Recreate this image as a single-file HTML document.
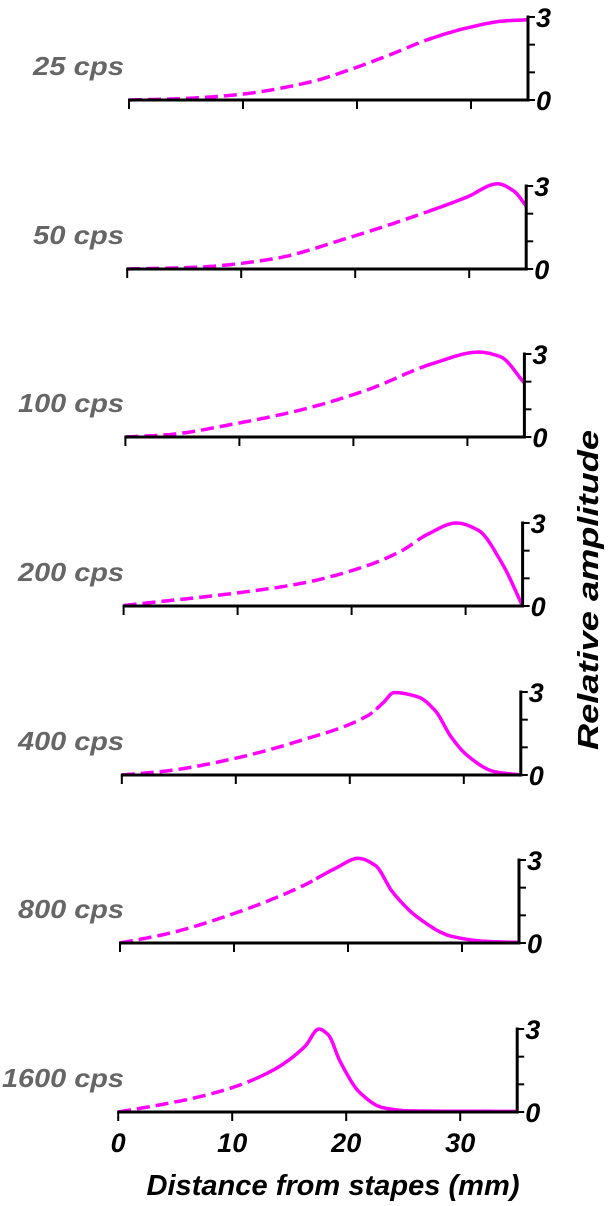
<!DOCTYPE html>
<html><head><meta charset="utf-8"><style>
html,body{margin:0;padding:0;background:#fff;}
svg{display:block;font-family:"Liberation Sans",Arial,sans-serif;font-weight:bold;font-style:italic;}
</style></head><body>
<svg id="chart" width="610" height="1206" viewBox="0 0 610 1206" xmlns="http://www.w3.org/2000/svg"></svg>
<script>
const labels = ["25 cps","50 cps","100 cps","200 cps","400 cps","800 cps","1600 cps"];
const xs1 = [0,4,9.2,16,19.4,22.8,26.2,29.6,33,35];
const ys1 = [0,0.04,0.18,0.66,1.1,1.62,2.18,2.6,2.86,2.9];
const xs2 = [0,5.9,12.7,19.5,26.4,29.8,32.5,33.9,35];
const ys2 = [0,0.06,0.36,1.14,2.08,2.6,3.08,2.82,2.28];
const xs3 = [0,3.65,9.5,15.4,21.2,27,31,32.9,35];
const ys3 = [0,0.08,0.47,0.98,1.7,2.66,3.07,2.9,1.95];
const xs4 = [0,3.9,9.7,15.6,21.5,24.4,26.7,29.2,31.1,33.2,35];
const ys4 = [0.02,0.19,0.46,0.82,1.48,2.0,2.6,3.0,2.74,1.54,0];
const xs5 = [0,4,9.9,15.7,21.6,22.9,23.9,26,27.5,28.9,30.3,32.7,35];
const ys5 = [0,0.15,0.6,1.25,2.15,2.6,2.98,2.82,2.32,1.37,0.71,0.12,0];
const xs6 = [0,4.2,10.1,16,18.9,20.9,22.4,23.9,26.2,29.1,32.1,35];
const ys6 = [0,0.34,1.08,2.06,2.7,3.06,2.8,1.85,0.9,0.24,0.06,0.02];
const xs7 = [0,3.4,6.8,10.2,13.7,16.4,17.6,18.4,19.5,21.2,23.2,25.6,35];
const ys7 = [0,0.24,0.52,0.91,1.54,2.38,3.0,2.8,1.8,0.7,0.16,0.04,0.02];
const dashEnds = [26.5,26.5,26.8,26.6,22.6,17.4,11.6];
const xTicks = [0,10,20,30];
const xTickLabels = ["0","10","20","30"];
const yTicks = [0,1,2,3];
const yTickLabels = ["0","3"];
const XS=[xs1,xs2,xs3,xs4,xs5,xs6,xs7], YS=[ys1,ys2,ys3,ys4,ys5,ys6,ys7];

const NS="http://www.w3.org/2000/svg", svg=document.getElementById('chart');
function mk(tag,attrs,parent){const e=document.createElementNS(NS,tag);for(const k in attrs)e.setAttribute(k,attrs[k]);(parent||svg).appendChild(e);return e;}
const baselines=[100,269,437,606,775,943,1112];
const W=399,H=83,XMAX=35,YMAX=3;
function sample(xa,ya){
 const n=xa.length,d=[],m=new Array(n);
 for(let i=0;i<n-1;i++)d.push((ya[i+1]-ya[i])/(xa[i+1]-xa[i]));
 m[0]=d[0];m[n-1]=d[n-2];
 for(let i=1;i<n-1;i++){ if(d[i-1]*d[i]<=0)m[i]=0; else {const w1=2*(xa[i+1]-xa[i])+(xa[i]-xa[i-1]),w2=(xa[i+1]-xa[i])+2*(xa[i]-xa[i-1]);m[i]=(w1+w2)/(w1/d[i-1]+w2/d[i]);}}
 const pts=[];
 for(let i=0;i<n-1;i++){const h=xa[i+1]-xa[i];
  for(let s=0;s<24;s++){const t=s/24,t2=t*t,t3=t2*t;
   const y=(2*t3-3*t2+1)*ya[i]+(t3-2*t2+t)*h*m[i]+(-2*t3+3*t2)*ya[i+1]+(t3-t2)*h*m[i+1];
   pts.push([xa[i]+t*h,y]);}}
 pts.push([xa[n-1],ya[n-1]]);return pts;}
for(let i=0;i<7;i++){
 const x0=129-1.8*i, by=baselines[i];
 const X=v=>x0+v/XMAX*W, Y=v=>by-v/YMAX*H;
 const g=mk('g',{});
 
 
 const lab=mk('text',{x:124,y:by-25,'text-anchor':'end','font-size':26,fill:'#666',textLength:(labels[i].length*15.2).toFixed(0),lengthAdjust:'spacingAndGlyphs'},g);lab.textContent=labels[i];
 
 
 const pts=sample(XS[i],YS[i]);
 const dp=[],sp=[];
 pts.forEach(p=>{if(p[0]<=dashEnds[i])dp.push(p);if(p[0]>=dashEnds[i]-0.3)sp.push(p);});
 const toS=a=>a.map(p=>X(p[0]).toFixed(1)+','+Y(Math.max(0,p[1])).toFixed(1)).join(' ');
 const d=mk('polyline',{points:toS(dp),fill:'none',stroke:'#ff00ff','stroke-width':3.5,'stroke-dasharray':'13 6'},g);
 
 
 const s=mk('polyline',{points:toS(sp),fill:'none',stroke:'#ff00ff','stroke-width':3.5,'stroke-linejoin':'round'},g);
 
 
 const xa=mk('line',{x1:X(0)-1,y1:by,x2:X(XMAX)+1.5,y2:by,stroke:'#000','stroke-width':3},g);
 
 
 const ya=mk('line',{x1:X(XMAX),y1:by+1.5,x2:X(XMAX),y2:Y(YMAX)-1.5,stroke:'#000','stroke-width':3},g);
 
 
 xTicks.forEach(t=>{const l=mk('line',{x1:X(t),y1:by,x2:X(t),y2:by+9,stroke:'#000','stroke-width':2},g);
  
  });
 yTicks.forEach(t=>{const l=mk('line',{x1:X(XMAX),y1:Y(t),x2:X(XMAX)+7,y2:Y(t),stroke:'#000','stroke-width':2},g);
  
  });
 const t3=mk('text',{x:X(XMAX)+8,y:Y(YMAX)+10,'font-size':27,fill:'#000'},g);t3.textContent=yTickLabels[1];
 
 
 const t0=mk('text',{x:X(XMAX)+8,y:Y(0)+10,'font-size':27,fill:'#000'},g);t0.textContent=yTickLabels[0];
 
 
 if(i===6){xTicks.forEach((t,k)=>{const tl=mk('text',{x:X(t),y:1152,'text-anchor':'middle','font-size':27,fill:'#000'},g);tl.textContent=xTickLabels[k];
  
  });}
}
const xt=mk('text',{x:333,y:1195,'text-anchor':'middle','font-size':29,fill:'#000',textLength:373,lengthAdjust:'spacingAndGlyphs'});xt.textContent='Distance from stapes (mm)';


const yt=mk('text',{x:0,y:0,'text-anchor':'middle','font-size':29,fill:'#000',textLength:320,lengthAdjust:'spacingAndGlyphs',transform:'translate(598,590) rotate(-90)'});yt.textContent='Relative amplitude';


</script>
</body></html>
